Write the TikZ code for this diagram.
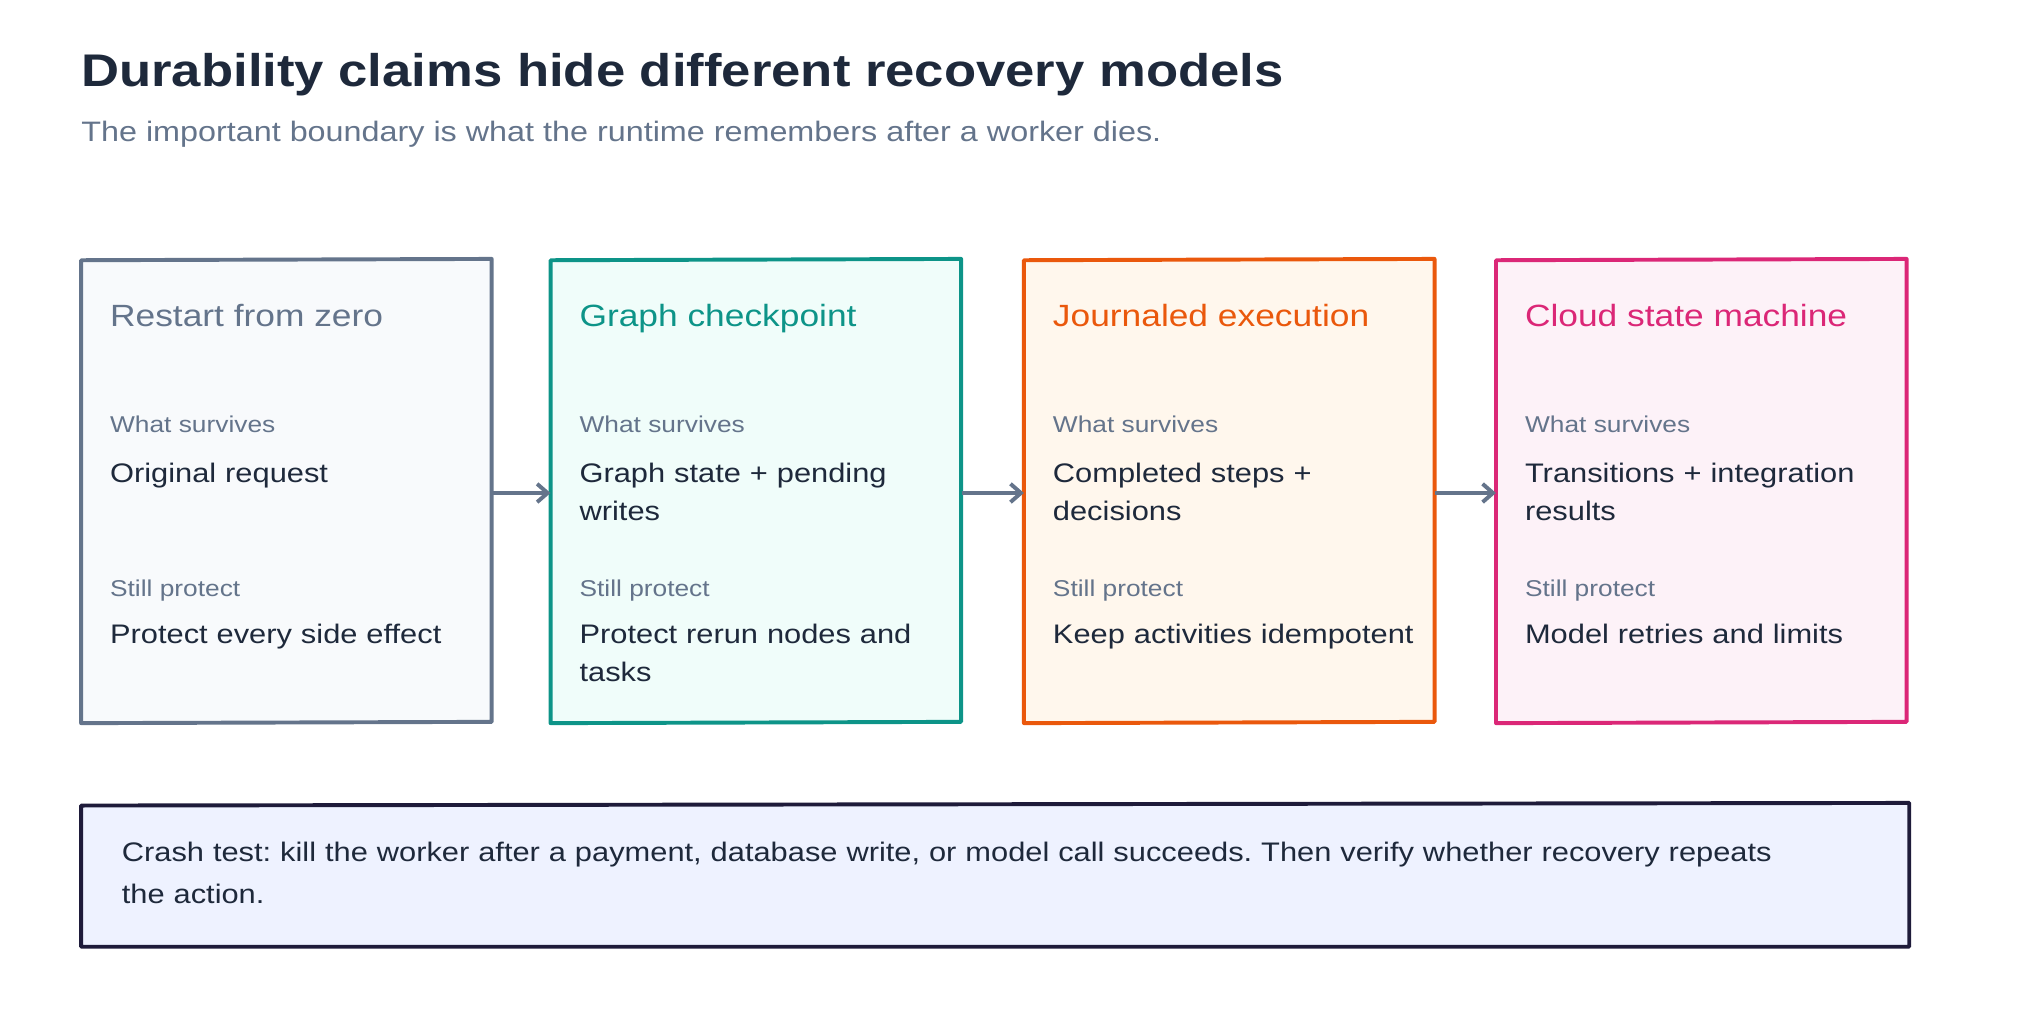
\documentclass[tikz,border=0pt]{standalone}
\usepackage{fontspec}
\setmainfont{Liberation Sans}[FakeStretch=1.15]
\usetikzlibrary{arrows.meta}
\definecolor{ink}{HTML}{1E293B}
\definecolor{muted}{HTML}{64748B}
\definecolor{cA}{HTML}{64748B}\definecolor{fA}{HTML}{F8FAFC}
\definecolor{cB}{HTML}{0D9488}\definecolor{fB}{HTML}{F0FDFA}
\definecolor{cC}{HTML}{EA580C}\definecolor{fC}{HTML}{FFF7ED}
\definecolor{cD}{HTML}{DB2777}\definecolor{fD}{HTML}{FDF2F8}
\definecolor{cE}{HTML}{1E1B3A}\definecolor{fE}{HTML}{EEF2FF}
\begin{document}
\hyphenpenalty=10000 \exhyphenpenalty=10000 \frenchspacing
\begin{tikzpicture}[x=1pt,y=-1pt,
  box/.style={line width=3pt, line join=round},
  ttl/.style={anchor=base west, font=\fontsize{23.5}{28}\selectfont},
  lbl/.style={anchor=base west, text=muted, font=\fontsize{17.5}{22}\selectfont},
  txt/.style={anchor=base west, text=ink, align=left, text width=284pt, inner sep=0pt, font=\fontsize{20.5}{29}\selectfont},
  arr/.style={line width=3pt, draw=cA, -{Straight Barb[length=8pt,width=14pt]}}]
\useasboundingbox (0,0) rectangle (1560,783);
\node[anchor=base west, text=ink, font=\bfseries\fontsize{35}{40}\selectfont, inner sep=0pt] (title) at (62,66) {Durability claims hide different recovery models};
\node[anchor=base west, text=muted, font=\fontsize{21.5}{26}\selectfont, inner sep=0pt] (sub) at (62,108) {The important boundary is what the runtime remembers after a worker dies.};
\foreach \n/\x/\c/\f/\t/\a/\b in {
  A/62/cA/fA/Restart from zero/Original request/Protect every side effect,
  B/421/cB/fB/Graph checkpoint/Graph state + pending writes/Protect rerun nodes and tasks,
  C/783/cC/fC/Journaled execution/Completed steps + decisions/Keep activities idempotent,
  D/1144/cD/fD/Cloud state machine/Transitions + integration results/Model retries and limits}{
  \path[box, draw=\c, fill=\f] (\x,199) -- (\x+314,198) -- (\x+314,552) -- (\x,553) -- cycle;
  \node[minimum width=314pt, minimum height=355pt, anchor=north west, inner sep=0pt] (\n) at (\x,198) {};
  \node[ttl, text=\c, inner sep=0pt] (\n t) at (\x+22,250) {\t};
  \node[lbl, inner sep=0pt] (\n l1) at (\x+22,331) {What survives};
  \node[txt] (\n a) at (\x+22,369) {\a};
  \node[lbl, inner sep=0pt] (\n l2) at (\x+22,456) {Still protect};
  \node[txt] (\n b) at (\x+22,492) {\b};
}
\draw[arr] (A.east |- 0,377) -- (B.west |- 0,377);
\draw[arr] (B.east |- 0,377) -- (C.west |- 0,377);
\draw[arr] (C.east |- 0,377) -- (D.west |- 0,377);
\path[box, draw=cE, fill=fE] (62,616) -- (1460,614) -- (1460,724) -- (62,724) -- cycle;
\node[anchor=base west, text=ink, align=left, text width=1290pt, inner sep=0pt, font=\fontsize{20.5}{32}\selectfont] (crash) at (93,659) {Crash test: kill the worker after a payment, database write, or model call succeeds. Then verify whether recovery repeats the action.};
\end{tikzpicture}
\end{document}
